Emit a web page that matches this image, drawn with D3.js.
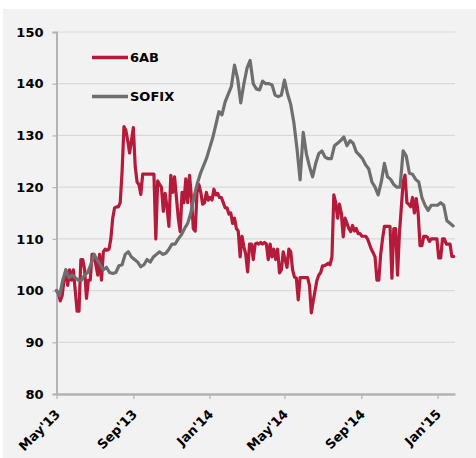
<!DOCTYPE html>
<html>
<head>
<meta charset="utf-8">
<script src="https://cdn.jsdelivr.net/npm/d3@7"></script>
<style>
  html, body { margin: 0; padding: 0; background: #ffffff; }
  svg { display: block; }
  text { font-family: "DejaVu Sans", Verdana, sans-serif; font-weight: bold; fill: #000; }
</style>
</head>
<body>
<svg id="chart" width="476" height="458"></svg>
<script>
// ---- data ----
const seriesNames = ["6AB", "SOFIX"];
const startDate = "2013-05-01";   // first observation
const step6AB = 3;                // days between 6AB observations
const stepSOFIX = 5;              // days between SOFIX observations
const values6AB = [
  100, 99.5, 98, 99, 102, 104, 101, 104, 102, 104,
  100, 96, 96, 106, 106, 104, 98.5, 102, 102, 107,
  107, 105, 103, 107, 102, 107.5, 108, 107.8, 108, 110,
  114, 116, 116.2, 116.2, 117, 123, 131.7, 131, 129, 126.6,
  129, 131.5, 124, 121, 120.5, 118.6, 122.5, 122.5, 122.5, 122.5,
  122.5, 122.5, 122.5, 110, 121.2, 120.5, 120, 115.3, 118.8, 116,
  112.4, 122.3, 119, 122, 118, 114, 111.4, 119, 117, 121.6,
  117, 122.3, 118, 112, 111.5, 119, 120.5, 119, 116.7, 117,
  119, 117.5, 118, 117.5, 119.6, 118.5, 118.8, 118, 118, 117,
  116, 116, 114.8, 115, 113, 114, 112, 111.5, 106.5, 110.5,
  108.5, 107, 103.6, 109, 109, 106, 109, 109.2, 109, 109.3,
  109, 109.3, 109, 106, 109, 106.5, 108, 106, 108, 103.4,
  104, 107.5, 106, 104.5, 108, 107.5, 104, 102.6, 102.4, 98.2,
  102.5, 102.5, 102.5, 102.5, 102.5, 101, 95.7, 98, 100, 102,
  103, 103.5, 104.8, 104.8, 105, 105.3, 105, 106.5, 118.5, 117,
  114, 116.7, 115, 110.4, 114, 113, 112, 111.4, 112.6, 111.5,
  112, 111, 111, 110.5, 110.5, 110.5, 110, 109, 108, 107.3,
  106.5, 102, 102, 107, 110, 112.4, 112.4, 112.4, 112.4, 102.4,
  112, 112, 103, 111, 116, 121, 122.3, 117, 116.7, 116.2,
  118, 115, 117.8, 115, 108.7, 108.7, 110.5, 110.5, 110.3, 109.5,
  110, 110, 110, 110, 106.3, 106.3, 110, 110, 109, 109,
  109, 106.6, 106.6
];
const valuesSOFIX = [
  100, 99, 102, 104, 102.5, 103, 102.5, 102, 102, 103,
  103.5, 105, 107, 106, 105, 104, 104.5, 103.5, 103.3, 103.5,
  104.8, 105, 107, 107.5, 106.5, 106, 105.5, 104.6, 105, 106,
  105.5, 106.5, 107, 107.5, 107, 107.2, 108, 109, 109, 110,
  110.8, 112, 113, 115, 118, 120.5, 122.5, 124, 125.5, 127.5,
  129.5, 132, 134.6, 134, 136.5, 138, 139.5, 143.6, 141, 136.3,
  140, 143, 144.5, 140, 139, 138.8, 140.5, 140, 140, 139.8,
  137.8, 137.5, 137.8, 140.7, 138, 136, 132.5, 127.5, 121.4, 130.6,
  126.5, 124, 122, 124.6, 126.5, 127, 125.8, 125.5, 125.5, 128,
  128.5, 129, 129.7, 128, 129, 128.5, 126.8, 126.2, 125.5, 124.3,
  123.5, 121, 120, 118.5, 121, 124.6, 122, 121.5, 120.5, 120,
  120, 127, 126, 122.7, 122.5, 121.5, 121, 118, 116.5, 115.5,
  116.5, 116.5, 116.5, 117, 116.5, 113.5, 113, 112.5
];
const yTicks = [80, 90, 100, 110, 120, 130, 140, 150];
const xTickDates = ["2013-05-01", "2013-09-01", "2014-01-01", "2014-05-01", "2014-09-01", "2015-01-01"];
const xTickLabels = ["May'13", "Sep'13", "Jan'14", "May'14", "Sep'14", "Jan'15"];
const xDomain = ["2013-05-01", "2015-01-29"];
const colors = ["#b51a3b", "#6e6e6e"];

// ---- drawing ----
const parse = d3.utcParse("%Y-%m-%d");
const svg = d3.select("#chart");

svg.append("rect").attr("x", 3).attr("y", 9).attr("width", 473).attr("height", 449).attr("fill", "#f2f2f2");

const x = d3.scaleUtc().domain(xDomain.map(parse)).range([56.5, 455]);
const y = d3.scaleLinear().domain([80, 150]).range([394, 32]);

const datesOf = (vals, step) => vals.map((_, i) => d3.utcDay.offset(parse(startDate), i * step));
const series = [
  { vals: values6AB, dates: datesOf(values6AB, step6AB) },
  { vals: valuesSOFIX, dates: datesOf(valuesSOFIX, stepSOFIX) }
];

// gridlines
svg.append("g").selectAll("line").data(yTicks.filter(v => v > 80)).join("line")
  .attr("x1", 56.5).attr("x2", 455)
  .attr("y1", d => y(d)).attr("y2", d => y(d))
  .attr("stroke", "#d9d9d9").attr("stroke-width", 1.2);

// y axis
const yAxis = d3.axisLeft(y).tickValues(yTicks).tickSize(4).tickPadding(9);
const gy = svg.append("g").attr("transform", "translate(56.5,0)").call(yAxis);
gy.select(".domain").attr("stroke", "#b3b3b3").attr("stroke-width", 2);
gy.selectAll(".tick line").attr("stroke", "#b3b3b3").attr("stroke-width", 1.2);
gy.selectAll(".tick text").style("font-size", "13px").style("font-family", "'DejaVu Sans', Verdana, sans-serif").style("font-weight", "bold").attr("fill", "#000");

// x axis
const xAxis = d3.axisBottom(x).tickValues(xTickDates.map(parse))
  .tickFormat((d, i) => xTickLabels[i]).tickSize(5).tickSizeOuter(0);
const gx = svg.append("g").attr("transform", "translate(0,394)").call(xAxis);
gx.select(".domain").attr("stroke", "#b3b3b3").attr("stroke-width", 2.5);
gx.selectAll(".tick line").attr("stroke", "#b3b3b3").attr("stroke-width", 1.2);
gx.selectAll(".tick text")
  .style("font-size", "13px").style("font-family", "'DejaVu Sans', Verdana, sans-serif").style("font-weight", "bold")
  .attr("fill", "#000")
  .attr("text-anchor", "end")
  .attr("y", 0).attr("dy", 0)
  .attr("transform", "translate(4,21) rotate(-45)");

// lines
series.forEach((s, k) => {
  const line = d3.line().x((d, i) => x(s.dates[i])).y(d => y(d));
  svg.append("path").datum(s.vals)
    .attr("d", line)
    .attr("fill", "none")
    .attr("stroke", colors[k])
    .attr("stroke-width", 3.2)
    .attr("stroke-linejoin", "round")
    .attr("stroke-linecap", "round");
});

// legend
const legY = [57.5, 96.5];
seriesNames.forEach((name, k) => {
  svg.append("line").attr("x1", 92).attr("x2", 128).attr("y1", legY[k]).attr("y2", legY[k])
    .attr("stroke", colors[k]).attr("stroke-width", 3.5);
  svg.append("text").attr("x", 130).attr("y", legY[k]).attr("dy", "0.36em")
    .style("font-size", "13px").text(name);
});
</script>
</body>
</html>
